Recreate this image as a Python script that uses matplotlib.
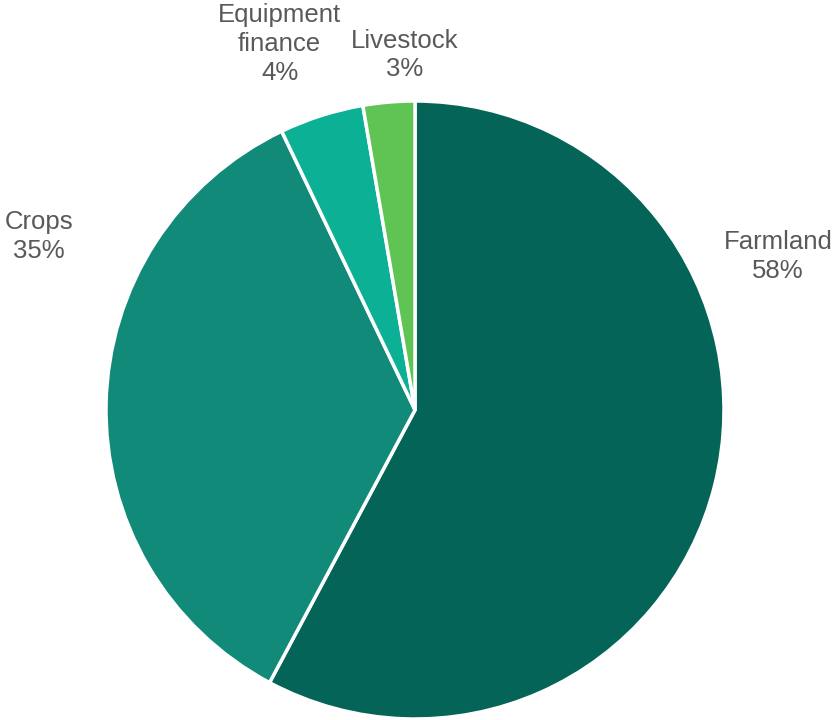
import numpy as np
import matplotlib.pyplot as plt

plt.rcParams['font.family'] = ['Liberation Sans', 'DejaVu Sans']

categories = ["Farmland", "Crops", "Equipment\nfinance", "Livestock"]
shares = [57.8, 35.1, 4.4, 2.7]
pct_labels = ["58%", "35%", "4%", "3%"]
colors = ["#036457", "#118a79", "#0bb095", "#5fc453"]
# label anchor points in axis units (radius = 1)
label_pos = [(1.175, 0.497), (-1.218, 0.562), (-0.438, 1.185), (-0.032, 1.149)]

fig = plt.figure(figsize=(8.37, 7.2), dpi=100)
cx, cy, r = 415, 410, 309
ax = fig.add_axes([(cx - r) / 837, (720 - cy - r) / 720, 2 * r / 837, 2 * r / 720])

ax.pie(shares, colors=colors, startangle=90, counterclock=False, radius=1,
       wedgeprops=dict(edgecolor="white", linewidth=2.5))

for name, pct, (x, y) in zip(categories, pct_labels, label_pos):
    ax.text(x, y, name + "\n" + pct, ha="center", va="center",
            fontsize=18.5, color="#595959", linespacing=1.25)

ax.set_xlim(-1, 1)
ax.set_ylim(-1, 1)
ax.set_aspect("equal")
ax.axis("off")

fig.savefig("out.png", dpi=100)
